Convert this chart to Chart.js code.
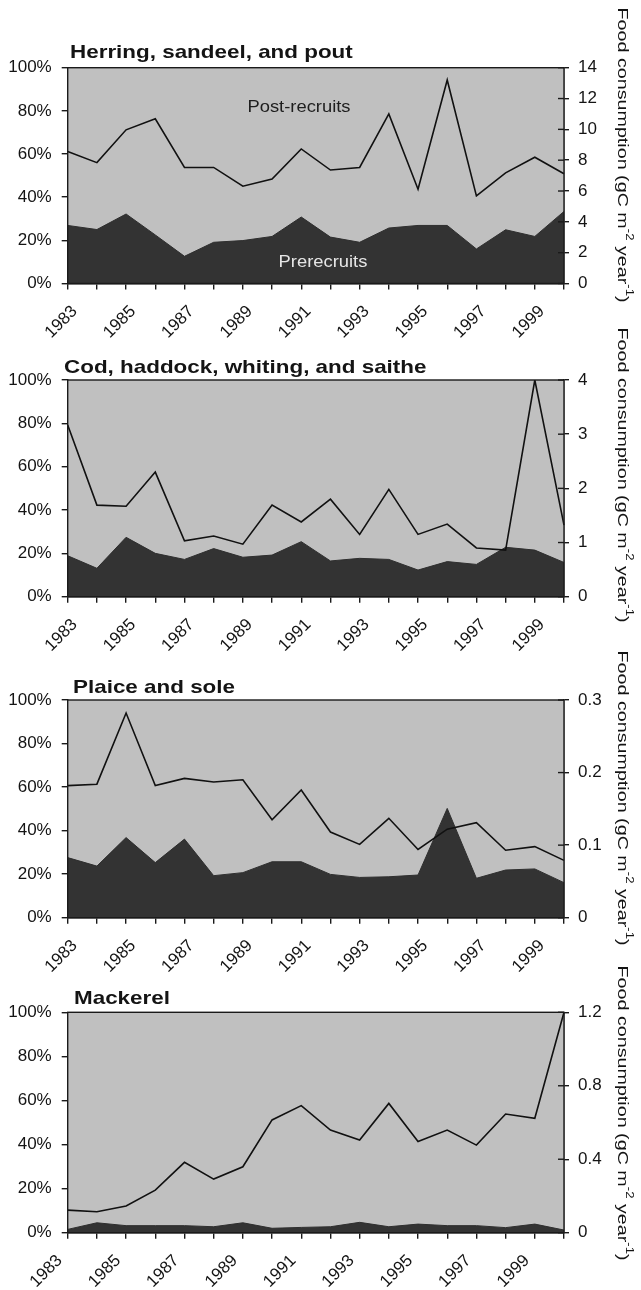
<!DOCTYPE html>
<html>
<head>
<meta charset="utf-8">
<title>Food consumption by prerecruits and post-recruits</title>
<script src="https://cdn.jsdelivr.net/npm/chart.js@4.4.1/dist/chart.umd.min.js"></script>
<style>
    html, body { margin: 0; padding: 0; background: #fff; }
    #wrap { position: relative; width: 641px; height: 1290px; overflow: hidden; }
    #wrap canvas { position: absolute; left: 0; }
</style>
</head>
<body>
<div id="wrap">
    <canvas id="panelHerring"  width="641" height="340" style="top:0px"></canvas>
    <canvas id="panelCod"      width="641" height="340" style="top:320px"></canvas>
    <canvas id="panelPlaice"   width="641" height="340" style="top:640px"></canvas>
    <canvas id="panelMackerel" width="641" height="330" style="top:960px"></canvas>
</div>
<script>
// ── Data ────────────────────────────────────────────
const years = ['1983', '1984', '1985', '1986', '1987', '1988', '1989', '1990', '1991',
               '1992', '1993', '1994', '1995', '1996', '1997', '1998', '1999', '2000'];
const shownYears   = ['1983', '1985', '1987', '1989', '1991', '1993', '1995', '1997', '1999'];
const percentTicks = [0, 20, 40, 60, 80, 100];

const panelTitles = ['Herring, sandeel, and pout', 'Cod, haddock, whiting, and saithe',
                     'Plaice and sole', 'Mackerel'];
const areaLabels  = ['Post-recruits', 'Prerecruits'];

// share of prerecruits (%), left axis
const herringPre  = [26.9, 25.0, 32.2, 22.5, 12.6, 19.1, 19.9, 21.8, 30.8, 21.5, 19.1, 25.7, 26.9, 26.9, 16.0, 24.9, 21.8, 33.4];
const codPre      = [18.9, 13.1, 27.4, 20.0, 17.2, 22.2, 18.2, 19.2, 25.4, 16.5, 17.7, 17.2, 12.3, 16.2, 14.9, 22.8, 21.5, 15.8];
const plaicePre   = [27.6, 23.7, 36.8, 25.3, 36.1, 19.3, 20.7, 25.7, 25.7, 19.9, 18.5, 18.8, 19.6, 50.2, 18.1, 21.9, 22.4, 16.1];
const mackerelPre = [1.5, 4.5, 3.2, 3.2, 3.2, 2.7, 4.5, 2.0, 2.4, 2.7, 4.7, 2.7, 3.9, 3.2, 3.2, 2.3, 3.9, 1.2];

// total food consumption (gC m-2 year-1), right axis
const herringFood  = [8.56, 7.84, 9.97, 10.69, 7.53, 7.53, 6.31, 6.77, 8.73, 7.36, 7.53, 11.0, 6.12, 13.2, 5.68, 7.18, 8.19, 7.12];
const codFood      = [3.17, 1.69, 1.67, 2.30, 1.03, 1.12, 0.97, 1.69, 1.38, 1.80, 1.15, 1.98, 1.15, 1.34, 0.90, 0.86, 4.0, 1.32];
const plaiceFood   = [0.182, 0.184, 0.282, 0.182, 0.192, 0.187, 0.190, 0.135, 0.176, 0.118, 0.101, 0.137, 0.094, 0.122, 0.131, 0.093, 0.098, 0.079];
const mackerelFood = [0.123, 0.114, 0.145, 0.232, 0.383, 0.292, 0.359, 0.614, 0.692, 0.559, 0.505, 0.704, 0.496, 0.559, 0.477, 0.646, 0.623, 1.2];

const herringTicks  = [0, 2, 4, 6, 8, 10, 12, 14];
const codTicks      = [0, 1, 2, 3, 4];
const plaiceTicks   = [0, 0.1, 0.2, 0.3];
const mackerelTicks = [0, 0.4, 0.8, 1.2];

const FONT = '"Liberation Sans", Arial, Helvetica, sans-serif';
const INK  = '#141414';

let charts = [];

// text drawn a bit wider than the font, like the scanned figure
function stretchedText(ctx, text, x, y, font, stretch, align, color) {
    ctx.save();
    ctx.font = font;
    ctx.fillStyle = color;
    ctx.textBaseline = 'alphabetic';
    const w = ctx.measureText(text).width * stretch;
    let left = x;
    if (align === 'center') left = x - w / 2;
    ctx.translate(left, y);
    ctx.scale(stretch, 1);
    ctx.textAlign = 'left';
    ctx.fillText(text, 0, 0);
    ctx.restore();
}

// right axis title, rotated, with superscripts
function drawFoodTitle(ctx, cx, cy, length) {
    const size  = 15;
    const parts = [['Food consumption (gC m', false], ['-2', true], [' year', false], ['-1', true], [')', false]];
    const fontOf = sup => (sup ? Math.round(size * 0.65) : size) + 'px ' + FONT;

    ctx.save();
    ctx.translate(cx, cy);
    ctx.rotate(Math.PI / 2);
    let total = 0;
    parts.forEach(p => { ctx.font = fontOf(p[1]); total += ctx.measureText(p[0]).width; });
    ctx.scale(length / total, 1);
    ctx.textBaseline = 'middle';
    ctx.textAlign = 'left';
    ctx.fillStyle = INK;
    let x = -total / 2;
    parts.forEach(p => {
        ctx.font = fontOf(p[1]);
        ctx.fillText(p[0], x, p[1] ? -size * 0.42 : 0);
        x += ctx.measureText(p[0]).width;
    });
    ctx.restore();
}

// ── Plugin: grey background, frame, inner ticks, texts ──
const panelDecor = {
    id: 'panelDecor',
    beforeDatasetsDraw(chart) {
        const { ctx, chartArea: a } = chart;
        ctx.save();
        ctx.fillStyle = '#c0c0c0';
        ctx.fillRect(a.left, a.top, a.right - a.left, a.bottom - a.top);
        ctx.restore();
    },
    afterDatasetsDraw(chart, args, opts) {
        const { ctx, chartArea: a } = chart;
        const y2 = chart.scales.y2;

        ctx.save();
        ctx.strokeStyle = '#1a1a1a';
        ctx.lineWidth = 1.4;
        ctx.strokeRect(a.left, a.top, a.right - a.left, a.bottom - a.top);
        y2.ticks.forEach(t => {
            const py = y2.getPixelForValue(t.value);
            ctx.beginPath();
            ctx.moveTo(a.right - 6, py);
            ctx.lineTo(a.right, py);
            ctx.stroke();
        });
        ctx.restore();

        stretchedText(ctx, opts.title, opts.titleX, opts.titleY, 'bold 19px ' + FONT, 1.18, 'left', INK);
        (opts.notes || []).forEach(n =>
            stretchedText(ctx, n.text, n.x, n.y, '17px ' + FONT, 1.08, 'center', n.color));
        drawFoodTitle(ctx, 622, opts.foodTitleY, 295);
    }
};

// ── One panel: dark area (prerecruits %) + line (total consumption) ──
function drawPanel(canvasId, title, pre, food, foodTicks, layout) {
    const ctx = document.getElementById(canvasId).getContext('2d');
    const canvasH = ctx.canvas.height;

    const tickFont = { family: FONT, size: 17 };
    const axisGrid = { display: true, drawOnChartArea: false, drawTicks: true, tickLength: 6, color: '#1a1a1a', lineWidth: 1.4 };

    const chart = new Chart(ctx, {
        type: 'line',
        data: {
            labels: years,
            datasets: [
                {
                    label: 'Food consumption',
                    data: food,
                    yAxisID: 'y2',
                    borderColor: '#111',
                    borderWidth: 1.6,
                    pointRadius: 0,
                    tension: 0,
                    fill: false,
                    order: 0
                },
                {
                    label: 'Prerecruits',
                    data: pre,
                    yAxisID: 'y',
                    borderColor: '#2f2f2f',
                    borderWidth: 1,
                    backgroundColor: '#333333',
                    pointRadius: 0,
                    tension: 0,
                    fill: 'origin',
                    order: 1
                }
            ]
        },
        options: {
            responsive: false,
            animation: false,
            layout: { padding: { top: layout.top, left: 0, right: 0, bottom: 0 } },
            plugins: {
                legend: { display: false },
                tooltip: { enabled: false },
                panelDecor: {
                    title: title,
                    titleX: layout.titleX,
                    titleY: layout.titleY,
                    foodTitleY: layout.foodTitleY,
                    notes: layout.notes
                }
            },
            scales: {
                x: {
                    type: 'category',
                    offset: false,
                    grid: axisGrid,
                    border: { display: true, color: '#1a1a1a', width: 1.4 },
                    ticks: {
                        autoSkip: false,
                        minRotation: 45,
                        maxRotation: 45,
                        padding: layout.labelPad,
                        labelOffset: layout.labelShift,
                        color: INK,
                        font: tickFont,
                        callback: function (value) {
                            const y = this.getLabelForValue(value);
                            return shownYears.includes(y) ? y : '';
                        }
                    },
                    afterFit: s => { s.height = canvasH - layout.bottom; }
                },
                y: {
                    position: 'left',
                    min: 0,
                    max: 100,
                    grid: axisGrid,
                    border: { display: true, color: '#1a1a1a', width: 1.4 },
                    ticks: { padding: 10, color: INK, font: tickFont, callback: v => v + '%' },
                    afterBuildTicks: s => { s.ticks = percentTicks.map(v => ({ value: v })); },
                    afterFit: s => { s.width = 67.7; }
                },
                y2: {
                    position: 'right',
                    min: 0,
                    max: foodTicks[foodTicks.length - 1],
                    grid: Object.assign({}, axisGrid, { tickLength: 5 }),
                    border: { display: true, color: '#1a1a1a', width: 1.4 },
                    ticks: { padding: 9, color: INK, font: tickFont, callback: v => String(v) },
                    afterBuildTicks: s => { s.ticks = foodTicks.map(v => ({ value: v })); },
                    afterFit: s => { s.width = 641 - 564; }
                }
            }
        },
        plugins: [panelDecor]
    });
    charts.push(chart);
}

document.addEventListener('DOMContentLoaded', () => {
    drawPanel('panelHerring', panelTitles[0], herringPre, herringFood, herringTicks, {
        top: 67.7, bottom: 283.5, titleX: 70, titleY: 58, foodTitleY: 155,
        labelPad: 12, labelShift: 7,
        notes: [
            { text: areaLabels[0], x: 299, y: 112, color: '#1e1e1e' },
            { text: areaLabels[1], x: 323, y: 267, color: '#e6e6e6' }
        ]
    });
    drawPanel('panelCod', panelTitles[1], codPre, codFood, codTicks, {
        top: 60, bottom: 276.7, titleX: 64, titleY: 52.5, foodTitleY: 155,
        labelPad: 12, labelShift: 7
    });
    drawPanel('panelPlaice', panelTitles[2], plaicePre, plaiceFood, plaiceTicks, {
        top: 60, bottom: 277.7, titleX: 73, titleY: 52.5, foodTitleY: 158,
        labelPad: 12, labelShift: 7
    });
    drawPanel('panelMackerel', panelTitles[3], mackerelPre, mackerelFood, mackerelTicks, {
        top: 52.3, bottom: 272.7, titleX: 74, titleY: 44.3, foodTitleY: 153,
        labelPad: 12, labelShift: -8
    });
});
</script>
</body>
</html>
